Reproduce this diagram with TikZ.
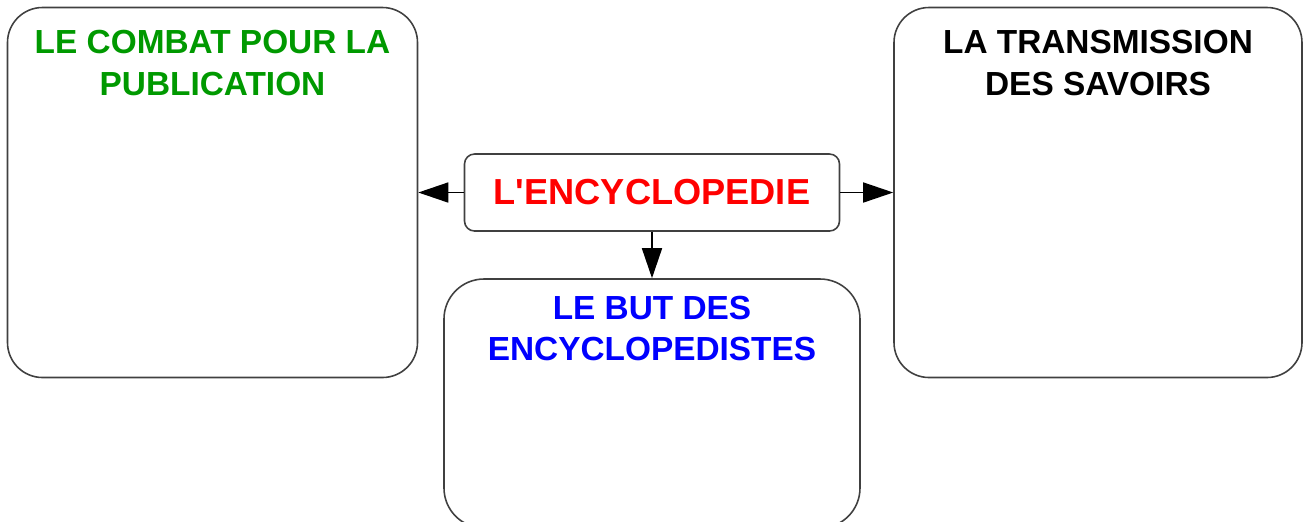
\documentclass[tikz,border=0pt]{standalone}
\usepackage{fontspec}
\setmainfont{Liberation Sans}
\usetikzlibrary{positioning,arrows.meta}
\definecolor{vert}{RGB}{0,153,0}
\tikzset{panneau/.style={draw=black!75, line width=0.45pt, rounded corners=0.35cm, inner sep=0pt},
         titre/.style={inner sep=0pt, align=center, font=\bfseries\fontsize{9.5}{11.8}\selectfont},
         fleche/.style={black, line width=0.45pt, -{Triangle[length=0.3cm,width=0.2cm]}}}

\begin{document}
\begin{tikzpicture}
   \useasboundingbox (0,0) rectangle (13.04,5.21);
   \begin{scope}
    \node[panneau, minimum width=4.10cm, minimum height=3.70cm] (combat)  at ( 2.125,3.285) {};
    \node[panneau, minimum width=4.08cm, minimum height=3.70cm] (savoirs) at (10.98, 3.285) {};
    \node[panneau, minimum width=4.16cm, minimum height=2.49cm, rounded corners=0.4cm] (but) at (6.52,1.175) {};
    \node[panneau, minimum width=3.75cm, minimum height=0.77cm, rounded corners=0.1cm] (encyc) at (6.52,3.285)
          {\bfseries\fontsize{10.3}{12}\selectfont\color{red}L\textquotesingle ENCYCLOPEDIE};
   \end{scope}
   \begin{scope}
    \node[titre, text=vert,  below=0.23 of combat.north]  (tcombat)  {LE COMBAT POUR LA\\PUBLICATION};
    \node[titre, text=black, below=0.23 of savoirs.north] (tsavoirs) {LA TRANSMISSION\\DES SAVOIRS};
    \node[titre, text=blue,  below=0.17 of but.north]     (tbut)     {LE BUT DES\\ENCYCLOPEDISTES};
   \end{scope}
   \draw[fleche] (encyc) -- (combat);
   \draw[fleche] (encyc) -- (savoirs);
   \draw[fleche] (encyc) -- (but);
  \end{tikzpicture}
\end{document}
